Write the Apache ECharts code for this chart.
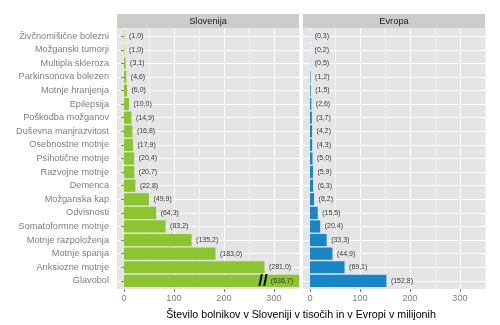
<!DOCTYPE html>
<html>
<head>
<meta charset="utf-8">
<script src="https://cdn.jsdelivr.net/npm/echarts@6/dist/echarts.min.js"></script>
<style>
  html, body { margin: 0; padding: 0; background: #ffffff; }
  #chart { width: 500px; height: 325px; }
</style>
</head>
<body>
<div id="chart"></div>
<script>
// Number of patients per disorder: Slovenia (thousands) and Europe (millions)
const categories = [
  'Živčnomišične bolezni', 'Možganski tumorji', 'Multipla skleroza',
  'Parkinsonova bolezen', 'Motnje hranjenja', 'Epilepsija',
  'Poškodba možganov', 'Duševna manjrazvitost', 'Osebnostne motnje',
  'Psihotične motnje', 'Razvojne motnje', 'Demenca', 'Možganska kap',
  'Odvisnosti', 'Somatoformne motnje', 'Motnje razpoloženja',
  'Motnje spanja', 'Anksiozne motnje', 'Glavobol'
];
const sloveniaValues = [1.0, 1.0, 3.1, 4.6, 6.0, 10.0, 14.9, 16.8, 17.9, 20.4,
  20.7, 22.8, 49.9, 64.3, 83.2, 135.2, 183.0, 281.0, 636.7];
const europeValues = [0.3, 0.2, 0.5, 1.2, 1.5, 2.6, 3.7, 4.2, 4.3, 5.0,
  5.9, 6.3, 8.2, 15.5, 20.4, 33.3, 44.9, 69.1, 152.8];
const panelNames = ['Slovenija', 'Evropa'];
const tickValues = [0, 100, 200, 300];
const axisTitle = 'Število bolnikov v Sloveniji v tisočih in v Evropi v milijonih';

// ---- layout ----
const X_MAX = 350;           // visible end of each value axis
const PX_PER_UNIT = 0.5;
const PAD_LEFT = 7;          // panel space left of zero
const ZEROS = [124, 310];    // pixel position of 0 in each panel
const PANEL_TOP = 28;
const PANEL_H = 261;
const STRIP_TOP = 14;
const STRIP_H = 14;
const n = categories.length;
const unit = PANEL_H / (n - 1 + 1.2);
const COLORS = ['#8BC530', '#1786C6'];
const GREY = '#7F7F7F';
const FONT = '"Liberation Sans", Arial, sans-serif';

const fmt = v => '(' + v.toFixed(1).replace('.', ',') + ')';

const grid = [], xAxis = [], yAxis = [], series = [], graphic = [];

function addPanel(p, values) {
  const zero = ZEROS[p];
  const valueWidth = X_MAX * PX_PER_UNIT;
  const left = zero - PAD_LEFT;
  const width = PAD_LEFT + valueWidth;
  const base = grid.length;

  // panel background and strip
  graphic.push({
    type: 'rect', z: -100,
    shape: { x: left, y: PANEL_TOP, width: width, height: PANEL_H },
    style: { fill: '#E5E5E5' }
  });
  graphic.push({
    type: 'rect', z: -100,
    shape: { x: left, y: STRIP_TOP, width: width, height: STRIP_H },
    style: { fill: '#CCCCCC' }
  });
  graphic.push({
    type: 'text', z: 10,
    x: left + width / 2, y: STRIP_TOP + STRIP_H / 2 + 0.5,
    style: { text: panelNames[p], fill: '#1A1A1A', font: '9.3px ' + FONT,
             align: 'center', verticalAlign: 'middle' }
  });

  // horizontal grid lines at category centres
  grid.push({ left: left, width: width, top: PANEL_TOP + 0.6 * unit, height: (n - 1) * unit });
  xAxis.push({ gridIndex: base, type: 'value', show: false });
  yAxis.push({
    gridIndex: base, type: 'category', data: categories, boundaryGap: false,
    axisLine: { show: false }, axisTick: { show: false }, axisLabel: { show: false },
    splitLine: { show: true, interval: 0, lineStyle: { color: '#FFFFFF', width: 1 } }
  });

  // vertical grid lines: major every 100, minor halfway
  grid.push({ left: zero, width: valueWidth, top: PANEL_TOP, height: PANEL_H });
  xAxis.push({
    gridIndex: base + 1, type: 'value', min: 0, max: X_MAX, interval: 50,
    axisLine: { show: false }, axisTick: { show: false }, axisLabel: { show: false },
    splitLine: { show: true, lineStyle: { color: ['#FFFFFF', '#F2F2F2'], width: 1 } }
  });
  yAxis.push({ gridIndex: base + 1, type: 'value', show: false });

  // tick marks and tick labels
  grid.push({ left: zero, width: tickValues[tickValues.length - 1] * PX_PER_UNIT, top: PANEL_TOP, height: PANEL_H });
  xAxis.push({
    gridIndex: base + 2, type: 'value',
    min: tickValues[0], max: tickValues[tickValues.length - 1],
    interval: tickValues[1] - tickValues[0],
    axisLine: { show: false },
    axisTick: { show: true, length: 3, lineStyle: { color: GREY, width: 1 } },
    axisLabel: { show: true, color: GREY, fontSize: 9.2, fontFamily: FONT, margin: 5 },
    splitLine: { show: false }
  });
  yAxis.push({ gridIndex: base + 2, type: 'value', show: false });

  // bars
  grid.push({ left: zero, width: valueWidth, top: PANEL_TOP + 0.1 * unit, height: n * unit });
  xAxis.push({ gridIndex: base + 3, type: 'value', min: 0, max: X_MAX, show: false });
  yAxis.push({
    gridIndex: base + 3, type: 'category', data: categories, inverse: true,
    show: p === 0, offset: PAD_LEFT,
    axisLine: { show: false },
    axisTick: { show: true, alignWithLabel: true, interval: 0, length: 3,
                lineStyle: { color: GREY, width: 1 } },
    axisLabel: { show: true, interval: 0, color: GREY, fontSize: 9.2, fontFamily: FONT, margin: 8 },
    splitLine: { show: false }
  });

  const data = values.map(v => {
    if (v <= X_MAX) return v;
    // value runs past the axis end: clipped bar with break marks
    return {
      value: v,
      label: {
        position: 'insideRight', distance: 6,
        formatter: '{brk|//}{v|' + fmt(v) + '}',
        rich: {
          brk: { fontSize: 17, fontWeight: 'bold', fontFamily: FONT, color: '#000000',
                 padding: [0, 3, 0, 0] },
          v: { fontSize: 7, fontFamily: FONT, color: '#333333' }
        }
      }
    };
  });

  series.push({
    type: 'bar', name: panelNames[p],
    xAxisIndex: base + 3, yAxisIndex: base + 3,
    data: data, clip: true,
    barCategoryGap: '10%',
    itemStyle: { color: COLORS[p] },
    label: {
      show: true, position: 'right', distance: 4.5,
      fontSize: 7, fontFamily: FONT, color: '#333333',
      formatter: prm => fmt(typeof prm.value === 'number' ? prm.value : prm.data.value)
    }
  });
}

addPanel(0, sloveniaValues);
addPanel(1, europeValues);

graphic.push({
  type: 'text', z: 10,
  x: (ZEROS[0] - PAD_LEFT + ZEROS[1] + X_MAX * PX_PER_UNIT) / 2, y: 315,
  style: { text: axisTitle, fill: '#000000', font: '10.7px ' + FONT,
           align: 'center', verticalAlign: 'middle' }
});

const chart = echarts.init(document.getElementById('chart'), null, { renderer: 'canvas' });
chart.setOption({
  animation: false,
  backgroundColor: '#FFFFFF',
  textStyle: { fontFamily: FONT },
  grid: grid,
  xAxis: xAxis,
  yAxis: yAxis,
  series: series,
  graphic: graphic
});
</script>
</body>
</html>
